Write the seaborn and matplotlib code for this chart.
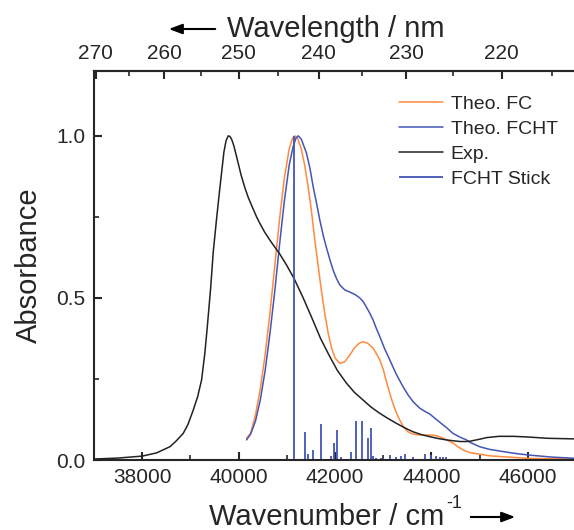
import numpy as np
import pandas as pd
import seaborn as sns
from matplotlib import pyplot as plt
from matplotlib.patches import FancyArrowPatch
from matplotlib.ticker import FixedLocator, MultipleLocator

# experimental spectrum (wavenumber, normalised absorbance)
exp_wn = [37000, 37500, 38000, 38300, 38575, 38700, 38851, 38950, 39059, 39150,
          39232, 39300, 39350, 39420, 39473, 39540, 39612, 39695, 39740, 39784,
          39820, 39854, 39900, 39958, 40050, 40130, 40200, 40300, 40370, 40441,
          40540, 40650, 40750, 40856, 41000, 41150, 41340, 41530, 41700, 41892,
          42050, 42238, 42400, 42583, 42750, 42929, 43100, 43275, 43450, 43619,
          43800, 43965, 44150, 44312, 44470, 44600, 44720, 44800, 44900, 45000,
          45140, 45270, 45400, 45550, 45700, 46000, 46400, 47000]
exp_abs = [0.003, 0.006, 0.012, 0.022, 0.041, 0.058, 0.082, 0.11, 0.154, 0.195,
           0.247, 0.33, 0.41, 0.53, 0.64, 0.74, 0.84, 0.95, 0.985, 1.0,
           0.998, 0.99, 0.97, 0.936, 0.88, 0.84, 0.81, 0.775, 0.751, 0.73,
           0.703, 0.678, 0.657, 0.635, 0.60, 0.56, 0.50, 0.435, 0.375, 0.319,
           0.276, 0.237, 0.209, 0.185, 0.163, 0.144, 0.128, 0.113, 0.099, 0.087,
           0.078, 0.072, 0.066, 0.062, 0.059, 0.057, 0.057, 0.058, 0.061, 0.064,
           0.069, 0.071, 0.073, 0.073, 0.073, 0.071, 0.067, 0.065]

# theoretical FC spectrum
fc_wn = [40165, 40250, 40350, 40450, 40550, 40650, 40750, 40850, 40950, 41050,
         41120, 41167, 41230, 41300, 41370, 41440, 41510, 41580, 41650, 41720,
         41790, 41860, 41930, 42000, 42100, 42200, 42300, 42400, 42500, 42583,
         42680, 42790, 42870, 42929, 43000, 43070, 43136, 43200, 43270, 43343,
         43430, 43516, 43600, 43700, 43800, 43900, 44000, 44104, 44200, 44300,
         44380, 44448, 44560, 44656, 44794, 45002, 45200, 45486, 46038, 47000]
fc_abs = [0.067, 0.083, 0.139, 0.219, 0.324, 0.453, 0.598, 0.743, 0.87, 0.96,
          0.993, 1.0, 0.99, 0.96, 0.91, 0.845, 0.77, 0.68, 0.60, 0.52,
          0.45, 0.39, 0.345, 0.315, 0.298, 0.303, 0.322, 0.345, 0.36, 0.365,
          0.36, 0.345, 0.325, 0.309, 0.28, 0.24, 0.206, 0.175, 0.147, 0.123,
          0.10, 0.087, 0.081, 0.078, 0.077, 0.077, 0.077, 0.075, 0.070, 0.063,
          0.057, 0.052, 0.040, 0.031, 0.023, 0.018, 0.013, 0.010, 0.005, 0.003]

# theoretical FCHT spectrum
fcht_wn = [40165, 40250, 40350, 40450, 40550, 40650, 40750, 40850, 40950, 41050,
           41132, 41190, 41235, 41300, 41408, 41480, 41546, 41620, 41685, 41760,
           41823, 41900, 41961, 42030, 42100, 42200, 42307, 42420, 42514, 42583,
           42650, 42721, 42790, 42860, 42929, 43030, 43136, 43270, 43412, 43519,
           43619, 43758, 43865, 43965, 44104, 44210, 44312, 44448, 44600, 44726,
           44794, 45002, 45200, 45486, 45750, 46038, 46500, 47000]
fcht_abs = [0.062, 0.08, 0.12, 0.185, 0.275, 0.39, 0.52, 0.665, 0.80, 0.91,
            0.967, 0.993, 1.0, 0.99, 0.947, 0.90, 0.844, 0.79, 0.74, 0.69,
            0.655, 0.615, 0.586, 0.56, 0.54, 0.525, 0.518, 0.51, 0.50, 0.489,
            0.472, 0.453, 0.432, 0.405, 0.381, 0.343, 0.309, 0.265, 0.226, 0.20,
            0.18, 0.16, 0.150, 0.142, 0.125, 0.112, 0.100, 0.082, 0.070, 0.062,
            0.055, 0.041, 0.033, 0.026, 0.020, 0.015, 0.009, 0.005]

# FCHT stick transitions
stick_wn = [41146, 41374, 41430, 41547, 41719, 41926, 41975, 42044, 42134, 42341,
            42445, 42562, 42686, 42742, 42790, 42860, 42960, 43136, 43275, 43378,
            43447, 43619, 43862, 44000, 44104, 44172, 44241, 44310]
stick_int = [1.0, 0.087, 0.02, 0.03, 0.11, 0.012, 0.051, 0.093, 0.01, 0.026,
             0.12, 0.12, 0.067, 0.10, 0.012, 0.005, 0.005, 0.015, 0.008, 0.012,
             0.017, 0.01, 0.02, 0.015, 0.012, 0.01, 0.01, 0.008]

wl_ticks = [270, 260, 250, 240, 230, 220]
wl_minor = [275, 265, 255, 245, 235, 225, 215]

c_fc = '#ff8a3d'
c_fcht = '#4455b5'
c_exp = '#222222'

sns.set_style('ticks')
plt.rcParams['font.family'] = ['Liberation Sans', 'DejaVu Sans']

fig = plt.figure(figsize=(5.74, 5.30), dpi=100)
ax = fig.add_axes([94/574, 70/530, 482/574, 389/530])

df_fc = pd.DataFrame({'wn': fc_wn, 'a': fc_abs})
df_fcht = pd.DataFrame({'wn': fcht_wn, 'a': fcht_abs})
df_exp = pd.DataFrame({'wn': exp_wn, 'a': exp_abs})

sns.lineplot(data=df_fc, x='wn', y='a', ax=ax, color=c_fc, lw=1.1, label='Theo. FC', sort=False)
sns.lineplot(data=df_fcht, x='wn', y='a', ax=ax, color=c_fcht, lw=1.1, label='Theo. FCHT', sort=False)
sns.lineplot(data=df_exp, x='wn', y='a', ax=ax, color=c_exp, lw=1.1, label='Exp.', sort=False)
ax.vlines(stick_wn, 0, stick_int, color=c_fcht, lw=1.3, label='FCHT Stick')

ax.set_xlim(37000, 47000)
ax.set_ylim(0, 1.2)
ax.xaxis.set_major_locator(MultipleLocator(2000))
ax.xaxis.set_minor_locator(MultipleLocator(1000))
ax.yaxis.set_major_locator(FixedLocator([0.0, 0.5, 1.0]))
ax.yaxis.set_minor_locator(FixedLocator([0.25, 0.75]))
ax.yaxis.set_major_formatter(plt.FuncFormatter(lambda v, p: f'{v:.1f}'))
ax.set_xlabel('')
ax.set_ylabel('Absorbance', fontsize=21, labelpad=10)

for s in ax.spines.values():
    s.set_linewidth(1.5)
ax.spines['right'].set_visible(False)
ax.tick_params(which='major', direction='in', length=6, width=1.5, labelsize=15, pad=6)
ax.tick_params(which='minor', direction='in', length=3.5, width=1.2)


def wn2wl(x):
    with np.errstate(divide='ignore'):
        return 1e7 / np.asarray(x, dtype=float)


top = ax.secondary_xaxis('top', functions=(wn2wl, wn2wl))
top.xaxis.set_major_locator(FixedLocator(wl_ticks))
top.xaxis.set_minor_locator(FixedLocator(wl_minor))
top.tick_params(which='major', direction='in', length=6, width=1.5, labelsize=15, pad=6)
top.tick_params(which='minor', direction='in', length=3.5, width=1.2)
top.spines['top'].set_linewidth(1.5)

leg = ax.legend(loc='upper left', bbox_to_anchor=(399/574, 1 - 95/530),
                bbox_transform=fig.transFigure, frameon=False, fontsize=14,
                handlelength=2.25, handletextpad=0.4, labelspacing=0.38,
                borderpad=0, borderaxespad=0)

fig.text(227/574, 1 - 37/530, 'Wavelength / nm', fontsize=21, va='baseline', ha='left')
fig.text(209/574, 1 - 525/530, 'Wavenumber / cm', fontsize=21, va='baseline', ha='left')
fig.text(446/574, 1 - 508/530, '-1', fontsize=13, va='baseline', ha='left')
fig.patches.append(FancyArrowPatch(
    (218/574, 1 - 29/530), (166/574, 1 - 29/530), transform=fig.transFigure,
    arrowstyle='-|>,head_length=8,head_width=3', mutation_scale=1, lw=1.5, color='black'))
fig.patches.append(FancyArrowPatch(
    (468/574, 1 - 517/530), (518/574, 1 - 517/530), transform=fig.transFigure,
    arrowstyle='-|>,head_length=8,head_width=3', mutation_scale=1, lw=1.5, color='black'))

fig.savefig('out.png', dpi=100)
